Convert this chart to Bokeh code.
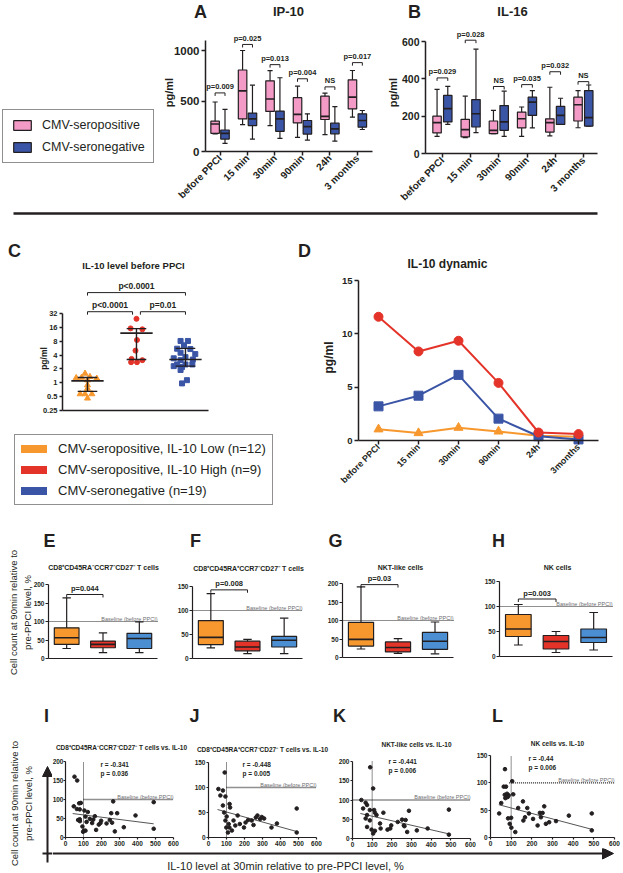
import math
import numpy as np
from bokeh.plotting import figure
from bokeh.layouts import row, column
from bokeh.models import (ColumnDataSource, FixedTicker, Label, Legend, LegendItem,
                          Arrow, NormalHead, Range1d, CustomJSTickFormatter)
from bokeh.embed import file_html
from bokeh.resources import INLINE
from bokeh.core.properties import value

FONT = "Liberation Sans"
INK = "#231f20"
PINK = "#f39ac6"
NAVY = "#3b55a6"
ORANGE = "#f7982f"
RED = "#e4342a"
SKY = "#4b8fd2"
GREY = "#6d6e71"

# ---------------- data ----------------
TIMEPOINTS = ["before PPCI", "15 min", "30min", "90min", "24h", "3 months"]
# box-plot summaries per time point: [lower whisker, Q1, median, Q3, upper whisker]
IP10_SEROPOS = [[175, 180, 272, 300, 490], [267, 323, 600, 807, 1000], [257, 397, 520, 700, 800],
                [140, 283, 367, 533, 647], [168, 317, 347, 548, 578], [340, 422, 538, 710, 802]]
IP10_SERONEG = [[80, 123, 180, 213, 417], [123, 257, 323, 380, 657], [130, 200, 323, 400, 730],
                [113, 173, 247, 307, 373], [102, 175, 224, 280, 445], [218, 241, 307, 373, 406]]
IP10_PVALS = ["p=0.009", "p=0.025", "p=0.013", "p=0.004", "NS", "p=0.017"]
IP10_BRACKET_Y = [580, 1060, 860, 720, 640, 880]

IL16_SEROPOS = [[92, 110, 165, 200, 343], [85, 89, 128, 183, 307], [106, 107, 124, 174, 231],
                [92, 137, 186, 222, 249], [94, 115, 165, 186, 355], [138, 174, 261, 302, 337]]
IL16_SERONEG = [[156, 169, 240, 311, 360], [112, 142, 213, 289, 559], [92, 124, 169, 257, 334],
                [137, 204, 275, 302, 337], [156, 156, 204, 252, 296], [147, 147, 192, 337, 367]]
IL16_PVALS = ["p=0.029", "p=0.028", "NS", "p=0.035", "p=0.032", "NS"]
IL16_BRACKET_Y = [405, 607, 359, 369, 438, 385]

GROUPS = ["CMV-seropositive, IL-10 Low (n=12)", "CMV-seropositive, IL-10 High (n=9)",
          "CMV-seronegative (n=19)"]
IL10_LOW = [1.59, 1.28, 1.30, 1.35, 1.24, 1.14, 0.89, 0.75, 0.57, 0.57, 0.57, 0.46]
IL10_LOW_JITTER = [-0.05, -0.23, -0.12, 0.05, 0.19, 0.0, 0.0, 0.0, -0.15, -0.05, 0.09, 0.0]
IL10_HIGH = [24.5, 15.2, 14.5, 8.5, 5.0, 3.3, 2.8, 2.8, 3.1]
IL10_HIGH_JITTER = [0.0, -0.12, 0.12, 0.01, -0.02, -0.10, -0.11, 0.01, 0.12]
IL10_NEG = [8.1, 8.1, 6.5, 5.5, 5.4, 4.5, 4.2, 3.6, 3.4, 3.2, 3.1, 2.5, 2.5, 2.5, 2.3, 2.2, 1.9, 1.14, 0.97]
IL10_NEG_JITTER = [-0.10, 0.05, -0.03, -0.17, 0.10, -0.10, 0.20, 0.0, -0.24, 0.15, -0.10, -0.17,
                   0.0, 0.14, -0.24, -0.07, -0.10, 0.03, -0.07]
IL10_MEDIAN = [1.1, 12.0, 3.2]
IL10_IQR_LOW = [0.65, 3.2, 2.3]
IL10_IQR_HIGH = [1.3, 15.0, 5.6]
IL10_PVALS = ["p<0.0001", "p=0.01", "p<0.0001"]
IL10_BRACKET_Y = [35, 35, 91]

DYN_TIMEPOINTS = ["before PPCI", "15 min", "30min", "90min", "24h", "3months"]
DYN_LOW = [1.05, 0.7, 1.2, 0.85, 0.45, 0.35]
DYN_HIGH = [11.6, 8.35, 9.35, 5.4, 0.75, 0.6]
DYN_NEG = [3.2, 4.2, 6.15, 2.05, 0.4, 0.1]

CELL_TITLES = ["CD8\u207aCD45RA\u207bCCR7\u207bCD27\u207b T cells", "CD8\u207aCD45RA\u207aCCR7\u207bCD27\u207b T cells",
               "NKT-like cells", "NK cells"]
# 90-min counts (% of baseline), groups [IL-10 low, IL-10 high, seronegative]
E_BOXES = [[27, 38, 56, 83, 164], [16, 29, 38, 47, 69], [16, 27, 54, 68, 99]]
F_BOXES = [[22, 29, 44, 79, 135], [10, 16, 24, 36, 40], [10, 24, 38, 46, 84]]
G_BOXES = [[23, 31, 49, 95, 191], [11, 15, 27, 42, 51], [10, 22, 44, 68, 96]]
H_BOXES = [[23, 40, 55, 84, 104], [8, 15, 30, 42, 50], [13, 28, 38, 55, 88]]
CELL_PVALS = ["p=0.044", "p=0.008", "p=0.03", "p=0.003"]
CELL_BRACKET_Y = [173, 143, 197, 115]

I_X = [50, 65, 46, 76, 85, 63, 79, 70, 80, 79, 94, 102, 98, 111, 105, 124, 111, 117, 135, 148, 154,
       163, 170, 185, 194, 198, 228, 246, 254, 259, 265, 274, 287, 324, 389, 490, 490]
I_Y = [160, 150, 82, 90, 91, 75, 74, 46, 43, 48, 29, 18, 15, 18, 71, 67, 55, 41, 49, 38, 47,
       56, 20, 34, 38, 44, 37, 46, 64, 39, 95, 16, 64, 27, 58, 93, 23]
J_X = [55, 80, 66, 94, 90, 80, 87, 101, 94, 112, 99, 116, 130, 108, 117, 120, 139, 149, 162, 174,
       197, 206, 220, 240, 250, 263, 272, 287, 296, 309, 350, 380, 490, 490]
J_Y = [97, 94, 84, 82, 130, 64, 50, 42, 34, 27, 20, 20, 14, 10, 67, 60, 34, 24, 44, 27,
       20, 30, 35, 34, 25, 40, 44, 37, 41, 38, 20, 28, 58, 10]
K_X = [105, 90, 45, 67, 74, 54, 88, 74, 67, 88, 74, 97, 114, 105, 114, 110, 122, 140, 143, 157,
       178, 192, 197, 230, 252, 261, 264, 270, 278, 287, 327, 382, 490, 490]
K_Y = [130, 185, 100, 93, 87, 78, 74, 61, 52, 47, 30, 23, 20, 13, 67, 74, 61, 39, 26, 67,
       23, 26, 34, 43, 49, 34, 32, 48, 17, 72, 21, 26, 75, 10]
L_X = [64, 75, 69, 80, 88, 83, 72, 52, 42, 110, 100, 85, 93, 101, 120, 70, 105, 134, 157, 159,
       178, 186, 167, 206, 228, 239, 244, 252, 260, 268, 284, 317, 379, 490, 490]
L_Y = [93, 93, 78, 80, 77, 74, 72, 63, 44, 79, 36, 35, 25, 18, 10, 125, 103, 54, 66, 31,
       54, 44, 37, 34, 22, 45, 37, 45, 57, 25, 28, 30, 40, 44, 13]
FIT_X = [[40, 490], [50, 490], [40, 490], [40, 490]]
FIT_Y = [[63, 36], [56, 12], [65, 12], [60, 15]]
CORR_R = ["r = -0.341", "r = -0.448", "r = -0.441", "r = -0.44"]
CORR_P = ["p = 0.036", "p = 0.005", "p = 0.006", "p = 0.006"]
SCATTER_TITLES = ["CD8\u207aCD45RA\u207bCCR7\u207bCD27\u207b T cells vs. IL-10",
                  "CD8\u207aCD45RA\u207aCCR7\u207bCD27\u207b T cells vs. IL-10",
                  "NKT-like cells vs. IL-10", "NK cells vs. IL-10"]


# ---------------- helpers ----------------
def lin_val(m, px):
    v0, p0, v1, p1 = m
    return v0 + (px - p0) * (v1 - v0) / (p1 - p0)


def log_val(m, px):
    v0, p0, v1, p1 = m
    a, b = math.log2(v0), math.log2(v1)
    return 2 ** (a + (px - p0) * (b - a) / (p1 - p0))


def panel(box, xmap, ymap, y_log=False):
    """Figure whose plotting frame fills the whole box; axes are drawn at fixed locations."""
    x0, y0, x1, y1 = box
    xr = Range1d(lin_val(xmap, x0), lin_val(xmap, x1))
    if y_log:
        yr = Range1d(log_val(ymap, y1), log_val(ymap, y0))
    else:
        yr = Range1d(lin_val(ymap, y1), lin_val(ymap, y0))
    p = figure(width=x1 - x0, height=y1 - y0, x_range=xr, y_range=yr,
               y_axis_type="log" if y_log else "linear", title=None,
               output_backend="svg", toolbar_location=None,
               min_border_left=0, min_border_right=0, min_border_top=0, min_border_bottom=0)
    p.outline_line_color = None
    p.xgrid.visible = False
    p.ygrid.visible = False
    p.border_fill_color = "white"
    p.background_fill_color = "white"
    return p


def blank(box):
    x0, y0, x1, y1 = box
    p = figure(width=x1 - x0, height=y1 - y0, x_range=Range1d(0, 1), y_range=Range1d(0, 1),
               x_axis_location=None, y_axis_location=None, title=None, output_backend="svg",
               toolbar_location=None, min_border_left=0, min_border_right=0,
               min_border_top=0, min_border_bottom=0)
    p.outline_line_color = None
    p.xgrid.visible = False
    p.ygrid.visible = False
    return p


def page_label(p, box, px, py, text, size, bold=True, align="center", baseline="middle",
               angle=0.0, color=INK):
    x0, y0, x1, y1 = box
    p.add_layout(Label(x=px - x0, y=y1 - py, x_units="screen", y_units="screen", text=text,
                       text_font=FONT, text_font_size=f"{size}px",
                       text_font_style="bold" if bold else "normal", text_color=color,
                       text_align=align, text_baseline=baseline, angle=angle))


def page_line(p, box, xa, ya, xb, yb, width=2, head=None):
    x0, y0, x1, y1 = box
    p.add_layout(Arrow(end=head, x_start=xa - x0, y_start=y1 - ya, x_end=xb - x0, y_end=y1 - yb,
                       start_units="screen", end_units="screen", line_color=INK, line_width=width))


def style_axis(ax, size, lw=1.2, tick_out=4, standoff=2, fixed=None, bounds=None):
    ax.axis_line_color = INK
    ax.axis_line_width = lw
    ax.major_tick_line_color = INK
    ax.major_tick_line_width = lw
    ax.major_tick_out = tick_out
    ax.major_tick_in = 0
    ax.minor_tick_line_color = None
    ax.major_label_text_font = FONT
    ax.major_label_text_font_size = f"{size}px"
    ax.major_label_text_font_style = "bold"
    ax.major_label_text_color = INK
    ax.major_label_standoff = standoff
    if fixed is not None:
        ax.fixed_location = fixed
    if bounds is not None:
        ax.bounds = bounds


def draw_boxes(p, centers, stats, width, cap, fill, lw):
    c = np.asarray(centers, dtype=float)
    s = np.asarray(stats, dtype=float)
    lo, q1, med, q3, hi = s.T
    line = dict(line_color=INK, line_width=lw)
    p.segment(x0=c, y0=lo, x1=c, y1=hi, **line)
    p.segment(x0=c - cap / 2, y0=hi, x1=c + cap / 2, y1=hi, **line)
    p.segment(x0=c - cap / 2, y0=lo, x1=c + cap / 2, y1=lo, **line)
    r = p.vbar(x=c, width=width, bottom=q1, top=q3, fill_color=fill, **line)
    p.segment(x0=c - width / 2, y0=med, x1=c + width / 2, y1=med, line_color=INK, line_width=lw * 1.4)
    return r


def draw_brackets(p, xl, xr, y, y_drop, labels, size):
    xl = np.asarray(xl, dtype=float)
    xr = np.asarray(xr, dtype=float)
    y = np.asarray(y, dtype=float)
    yd = np.asarray(y_drop, dtype=float)
    p.segment(x0=xl, y0=y, x1=xr, y1=y, line_color=INK, line_width=1)
    p.segment(x0=xl, y0=y, x1=xl, y1=yd, line_color=INK, line_width=1)
    p.segment(x0=xr, y0=y, x1=xr, y1=yd, line_color=INK, line_width=1)
    src = ColumnDataSource(dict(x=(xl + xr) / 2, y=y, text=list(labels)))
    p.text(x="x", y="y", text="text", source=src, text_align="center", text_baseline="bottom",
           y_offset=-1.5, text_font=value(FONT), text_font_size=f"{size}px",
           text_font_style="bold", text_color=INK)


# ---------------- row 1: IP-10 / IL-16 ----------------
def cytokine_panel(box, xmap, ymap, xb, bound, ticks, pos, neg, pvals, bracket_y, drop,
                   tick_size, off, bw, letter, letter_pos, title, title_pos, ylab_pos):
    p = panel(box, xmap, ymap)
    style_axis(p.xaxis[0], 10, lw=1.5, standoff=1, fixed=0, bounds=xb)
    style_axis(p.yaxis[0], tick_size, lw=1.5, fixed=xb[0], bounds=(0, bound))
    p.xaxis.ticker = FixedTicker(ticks=list(range(1, 7)))
    p.xaxis.major_label_overrides = {i + 1: t for i, t in enumerate(TIMEPOINTS)}
    p.xaxis.major_label_orientation = math.pi / 4
    p.yaxis.ticker = FixedTicker(ticks=ticks)
    idx = np.arange(1, 7)
    rp = draw_boxes(p, idx - off, pos, bw, bw * 0.6, PINK, 1.2)
    rn = draw_boxes(p, idx + off, neg, bw, bw * 0.6, NAVY, 1.2)
    by = np.asarray(bracket_y, dtype=float)
    draw_brackets(p, idx - off, idx + off, by, by - drop, pvals, 7.5)
    page_label(p, box, *letter_pos, letter, 18)
    page_label(p, box, *title_pos, title, 13)
    page_label(p, box, *ylab_pos, "pg/ml", 11, angle=math.pi / 2)
    return p, rp, rn


A_BOX = (0, 0, 380, 208)
fa, r_pos, r_neg = cytokine_panel(A_BOX, (0.47, 205, 6.55, 372), (0, 151, 1000, 50), (0.47, 6.55), 1100,
                                  [0, 500, 1000], IP10_SEROPOS, IP10_SERONEG, IP10_PVALS, IP10_BRACKET_Y,
                                  30, 11.5, 0.18, 0.31, "A", (200, 11), "IP-10", (288, 11), (168, 92))
fa.add_layout(Legend(items=[LegendItem(label="CMV-seropositive", renderers=[r_pos], index=0),
                            LegendItem(label="CMV-seronegative", renderers=[r_neg], index=0)],
                     location=(2, 45), margin=0, padding=8, spacing=8, glyph_width=22,
                     glyph_height=12, label_height=14, label_standoff=9,
                     label_text_font=FONT, label_text_font_size="12.5px", label_text_color=INK,
                     border_line_color=INK, border_line_width=1.2, background_fill_color="white"))
B_BOX = (380, 0, 623, 208)
fb, _, _ = cytokine_panel(B_BOX, (0.4, 425, 6.5, 597), (0, 153, 600, 41), (0.4, 6.5), 600,
                          [0, 200, 400, 600], IL16_SEROPOS, IL16_SERONEG, IL16_PVALS, IL16_BRACKET_Y,
                          16, 10.5, 0.19, 0.3, "B", (414, 11), "IL-16", (512, 11), (392, 92))

SEP_BOX = (0, 208, 623, 220)
sep = blank(SEP_BOX)
page_line(sep, SEP_BOX, 13, 213, 597, 213, width=2.5)

# ---------------- row 2: IL-10 ----------------
C_BOX = (0, 220, 290, 512)
fc = panel(C_BOX, (0.49, 62, 3.47, 208), (0.25, 410, 32, 313), y_log=True)
style_axis(fc.xaxis[0], 8, lw=1.5, fixed=0.25, bounds=(0.49, 3.47))
style_axis(fc.yaxis[0], 7.5, lw=1.5, tick_out=3, fixed=0.49, bounds=(0.25, 32))
fc.xaxis.ticker = FixedTicker(ticks=[])
fc.yaxis.ticker = FixedTicker(ticks=[0.25, 0.5, 1, 2, 4, 8, 16, 32])
fc.yaxis.formatter = CustomJSTickFormatter(code="return tick.toString()")
legend_c_items = []
for gi, (name, vals, jit, col, mk, sz) in enumerate([
        (GROUPS[0], IL10_LOW, IL10_LOW_JITTER, ORANGE, "triangle", 6),
        (GROUPS[1], IL10_HIGH, IL10_HIGH_JITTER, RED, "circle", 5),
        (GROUPS[2], IL10_NEG, IL10_NEG_JITTER, NAVY, "square", 5)]):
    xs = (gi + 1) + np.asarray(jit)
    fc.scatter(x=xs, y=vals, marker=mk, size=sz, fill_color=col, line_color=col)
    # hidden companion renderer that only supplies the legend's bar-shaped key
    key = fc.line(x=xs, y=vals, line_color=col, line_width=8, line_cap="round", visible=False)
    legend_c_items.append(LegendItem(label=name, renderers=[key], index=0))
gx = np.arange(1, 4)
fc.segment(x0=gx - 0.33, y0=IL10_MEDIAN, x1=gx + 0.33, y1=IL10_MEDIAN, line_color=INK, line_width=1.6)
fc.segment(x0=gx, y0=IL10_IQR_LOW, x1=gx, y1=IL10_IQR_HIGH, line_color=INK, line_width=1.4)
fc.segment(x0=gx - 0.2, y0=IL10_IQR_LOW, x1=gx + 0.2, y1=IL10_IQR_LOW, line_color=INK, line_width=1.4)
fc.segment(x0=gx - 0.2, y0=IL10_IQR_HIGH, x1=gx + 0.2, y1=IL10_IQR_HIGH, line_color=INK, line_width=1.4)
cb = np.asarray(IL10_BRACKET_Y, dtype=float)
draw_brackets(fc, [1, 2.08, 1], [1.92, 3, 3], cb, cb / 1.16, IL10_PVALS, 8.5)
page_label(fc, C_BOX, 14, 250, "C", 18)
page_label(fc, C_BOX, 133, 265, "IL-10 level before PPCI", 9.5)
page_label(fc, C_BOX, 43, 358, "pg/ml", 8.5, angle=math.pi / 2)
fc.add_layout(Legend(items=legend_c_items, location=(14, 7), margin=0, padding=6, spacing=6,
                     glyph_width=26, glyph_height=15, label_height=15, label_standoff=11,
                     label_text_font=FONT, label_text_font_size="13px", label_text_color=INK,
                     inactive_fill_alpha=0.0,
                     border_line_color=INK, border_line_width=1.2, background_fill_color="white"))

D_BOX = (290, 220, 623, 512)
fd = panel(D_BOX, (0.5, 358, 6.5, 598), (0, 440, 15, 280))
style_axis(fd.xaxis[0], 9, lw=1.5, standoff=1, fixed=0, bounds=(0.5, 6.5))
style_axis(fd.yaxis[0], 9.5, lw=1.5, fixed=0.5, bounds=(0, 15))
fd.xaxis.ticker = FixedTicker(ticks=list(range(1, 7)))
fd.xaxis.major_label_overrides = {i + 1: t for i, t in enumerate(DYN_TIMEPOINTS)}
fd.xaxis.major_label_orientation = math.pi / 4
fd.yaxis.ticker = FixedTicker(ticks=[0, 5, 10, 15])
tx = np.arange(1, 7)
for vals, col, mk, sz in [(DYN_LOW, ORANGE, "triangle", 9), (DYN_NEG, NAVY, "square", 9),
                          (DYN_HIGH, RED, "circle", 9)]:
    fd.line(x=tx, y=vals, line_color=col, line_width=2)
    fd.scatter(x=tx, y=vals, marker=mk, size=sz, fill_color=col, line_color=col)
page_label(fd, D_BOX, 304, 250, "D", 18)
page_label(fd, D_BOX, 447, 263, "IL-10 dynamic", 12)
page_label(fd, D_BOX, 328, 357, "pg/ml", 12, angle=math.pi / 2)


# ---------------- row 3: cell counts at 90 min ----------------
def cell_panel(box, xmap, ymap, boxes, bound, ticks, title, pval, bracket_y, drop,
               letter, letter_pos, title_pos):
    p = panel(box, xmap, ymap)
    style_axis(p.xaxis[0], 6.5, lw=1.2, tick_out=0, fixed=0, bounds=(0.5, 3.5))
    style_axis(p.yaxis[0], 6.5, lw=1.2, tick_out=3, standoff=1, fixed=0.5, bounds=(0, bound))
    p.xaxis.ticker = FixedTicker(ticks=[])
    p.yaxis.ticker = FixedTicker(ticks=ticks)
    p.segment(x0=[0.5], y0=[100], x1=[3.5], y1=[100], line_dash="1 1", line_color=INK, line_width=1.1)
    p.add_layout(Label(x=3.5, y=100, text="Baseline (before PPCI)", text_font=FONT,
                       text_font_size="5.5px", text_color=GREY, text_align="right",
                       text_baseline="bottom"))
    draw_boxes(p, [1, 2, 3], boxes, 0.68, 0.23, [ORANGE, RED, SKY], 1.2)
    draw_brackets(p, [1], [2], [bracket_y], [bracket_y - drop], [pval], 7.5)
    page_label(p, box, *letter_pos, letter, 18)
    page_label(p, box, *title_pos, title, 7)
    return p


E_BOX = (0, 512, 160, 690)
fe = cell_panel(E_BOX, (0.5, 48, 3.5, 157), (0, 658, 200, 584), E_BOXES, 200, [0, 50, 100, 150, 200],
                CELL_TITLES[0], CELL_PVALS[0], CELL_BRACKET_Y[0], 8, "E", (49, 540), (103, 567))
page_label(fe, E_BOX, 13, 612, "Cell count at 90min relative to", 9.5, bold=False, angle=math.pi / 2)
page_label(fe, E_BOX, 27, 612, "pre-PPCI level, %", 9.5, bold=False, angle=math.pi / 2)
ff = cell_panel((160, 512, 315, 690), (0.5, 192, 3.5, 302), (0, 658, 150, 586), F_BOXES, 150,
                [0, 50, 100, 150], CELL_TITLES[1], CELL_PVALS[1], CELL_BRACKET_Y[1], 6,
                "F", (195, 540), (248, 568))
fg = cell_panel((315, 512, 470, 690), (0.5, 342, 3.5, 453), (0, 657, 200, 583), G_BOXES, 200,
                [0, 50, 100, 150, 200], CELL_TITLES[2], CELL_PVALS[2], CELL_BRACKET_Y[2], 8,
                "G", (335, 540), (400, 567))
fh = cell_panel((470, 512, 623, 690), (0.5, 499, 3.5, 612), (0, 656, 150, 581), H_BOXES, 150,
                [0, 50, 100, 150], CELL_TITLES[3], CELL_PVALS[3], CELL_BRACKET_Y[3], 6,
                "H", (498, 540), (557, 567))


# ---------------- row 4: correlations ----------------
def scatter_panel(box, xmap, ymap, xs, ys, fx, fy, bound, ticks, base_start, title, r_txt, p_txt,
                  letter, letter_pos, title_pos, rp_pos, y_standoff=1):
    p = panel(box, xmap, ymap)
    style_axis(p.xaxis[0], 6.5, lw=1.2, tick_out=2, standoff=1, fixed=0, bounds=(0, 600))
    style_axis(p.yaxis[0], 6.5, lw=1.2, tick_out=2, standoff=y_standoff, fixed=0, bounds=(0, bound))
    p.xaxis.ticker = FixedTicker(ticks=[0, 100, 200, 300, 400, 500, 600])
    p.yaxis.ticker = FixedTicker(ticks=ticks)
    p.segment(x0=[100], y0=[0], x1=[100], y1=[bound], line_color=INK, line_width=1, line_dash="1 1")
    p.segment(x0=[base_start], y0=[100], x1=[600], y1=[100], line_color=INK, line_width=1.3,
              line_dash="1 1")
    p.add_layout(Label(x=600, y=100, text="Baseline (before PPCI)", text_font=FONT,
                       text_font_size="5.5px", text_color=GREY, text_align="right",
                       text_baseline="bottom"))
    p.line(x=fx, y=fy, line_color="#555555", line_width=1)
    p.scatter(x=xs, y=ys, marker="circle", size=3.6, fill_color=INK, line_color=INK)
    if letter:
        page_label(p, box, *letter_pos, letter, 18)
    page_label(p, box, *title_pos, title, 6.5)
    page_label(p, box, rp_pos[0], rp_pos[1], r_txt, 6.5, align="left")
    page_label(p, box, rp_pos[0], rp_pos[1] + 9, p_txt, 6.5, align="left")
    return p


# left strip: shared y-axis title and the vertical arrow
STRIP_BOX = (0, 690, 52, 873)
strip = blank(STRIP_BOX)
page_label(strip, STRIP_BOX, 14, 803, "Cell count at 90min relative to", 9.5, bold=False, angle=math.pi / 2)
page_label(strip, STRIP_BOX, 28, 803, "pre-PPCI level, %", 9.5, bold=False, angle=math.pi / 2)
page_label(strip, STRIP_BOX, 46, 715, "I", 18)
page_line(strip, STRIP_BOX, 47, 862, 47, 766, width=2,
          head=NormalHead(size=10, fill_color=INK, line_color=INK))
page_line(strip, STRIP_BOX, 42, 853, 52, 853, width=2)

fi = scatter_panel((52, 690, 188, 848), (0, 65, 600, 173), (0, 837, 200, 761), I_X, I_Y,
                   FIT_X[0], FIT_Y[0], 200, [0, 50, 100, 150, 200], 100, SCATTER_TITLES[0],
                   CORR_R[0], CORR_P[0], None, None, (121, 747), (100, 764), y_standoff=0)
fj = scatter_panel((188, 690, 332, 848), (0, 208, 600, 316), (0, 837, 150, 762), J_X, J_Y,
                   FIT_X[1], FIT_Y[1], 150, [0, 50, 100, 150], 100, SCATTER_TITLES[1],
                   CORR_R[1], CORR_P[1], "J", (194, 715), (262, 749), (242, 764))
fk = scatter_panel((332, 690, 476, 848), (0, 352, 600, 470), (0, 838, 200, 761), K_X, K_Y,
                   FIT_X[2], FIT_Y[2], 200, [0, 50, 100, 150, 200], 0, SCATTER_TITLES[2],
                   CORR_R[2], CORR_P[2], "K", (339, 715), (416, 744), (388, 761))
fl = scatter_panel((476, 690, 623, 848), (0, 490, 600, 614), (0, 837, 150, 755), L_X, L_Y,
                   FIT_X[3], FIT_Y[3], 150, [0, 50, 100, 150], 90, SCATTER_TITLES[3],
                   CORR_R[3], CORR_P[3], "L", (497, 715), (557, 743), (528, 758))

BOT_BOX = (52, 848, 623, 873)
bot = blank(BOT_BOX)
page_line(bot, BOT_BOX, 52, 853, 613, 853, width=2,
          head=NormalHead(size=11, fill_color=INK, line_color=INK))
page_label(bot, BOT_BOX, 285, 865, "IL-10 level at 30min relative to pre-PPCI level, %", 11, bold=False)

layout = column(row(fa, fb), sep, row(fc, fd), row(fe, ff, fg, fh),
                row(strip, column(row(fi, fj, fk, fl), bot)))

open("out.html", "w").write(file_html(layout, INLINE, title="CMV and IL-10"))
